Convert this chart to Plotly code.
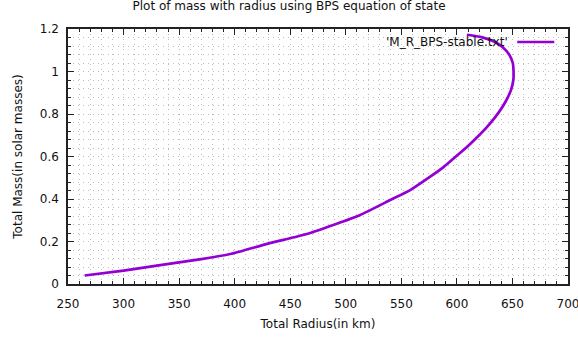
import plotly.graph_objects as go

# Mass-radius relation for the BPS equation of state (stable branch)
radius_km = [265, 300, 333, 370, 396, 430, 465, 490, 513, 540, 558, 576,
             588, 598, 610, 620, 629, 638, 644, 648.5, 650.8, 651, 650.3,
             647, 641, 633, 622, 609]
mass_msun = [0.04, 0.063, 0.089, 0.117, 0.141, 0.19, 0.235, 0.28, 0.325,
             0.395, 0.442, 0.505, 0.55, 0.595, 0.65, 0.70, 0.75, 0.81, 0.86,
             0.91, 0.96, 1.0, 1.04, 1.08, 1.115, 1.142, 1.162, 1.173]

series_name = "'M_R_BPS-stable.txt'"
line_color = "#9400D3"
font_family = "DejaVu Sans"
grid_color = "#bdbdbd"
grid_dash = "1px 4px"

fig = go.Figure()
fig.add_trace(go.Scatter(
    x=radius_km, y=mass_msun, mode="lines", name=series_name,
    line=dict(color=line_color, width=2.7, shape="spline", smoothing=0.5),
    showlegend=False,
))

axis_common = dict(
    showline=True, linecolor="#222222", linewidth=1.5, mirror="allticks",
    ticks="inside", ticklen=6, tickwidth=1, tickcolor="#222222",
    showgrid=True, gridcolor=grid_color, griddash=grid_dash, gridwidth=1,
    zeroline=False, automargin=False, ticklabeloverflow="allow",
    tickfont=dict(family=font_family, size=12, color="#111111"),
)

fig.update_xaxes(
    range=[250, 700], dtick=50, tick0=250, ticklabelstandoff=8,
    minor=dict(dtick=10, ticks="inside", ticklen=3, tickcolor="#222222",
               showgrid=True, gridcolor=grid_color, griddash=grid_dash,
               gridwidth=1),
    title=dict(text="Total Radius(in km)", standoff=9,
               font=dict(family=font_family, size=12, color="#111111")),
    **axis_common,
)
fig.update_yaxes(
    range=[0, 1.2], dtick=0.2, tick0=0, ticklabelstandoff=5,
    minor=dict(dtick=0.04, ticks="inside", ticklen=3, tickcolor="#222222",
               showgrid=True, gridcolor=grid_color, griddash=grid_dash,
               gridwidth=1),
    title=dict(text="Total Mass(in solar masses)", standoff=15,
               font=dict(family=font_family, size=12, color="#111111")),
    **axis_common,
)

# Key: label on the left, line sample on the right
fig.add_annotation(
    x=0.8845, y=0.949, xref="paper", yref="paper", xanchor="right",
    yanchor="middle", text=series_name, showarrow=False,
    font=dict(family=font_family, size=12, color="#111111"),
)
fig.add_shape(
    type="line", xref="paper", yref="paper",
    x0=0.8985, x1=0.9726, y0=0.949, y1=0.949,
    line=dict(color=line_color, width=2.7),
)

fig.update_layout(
    width=578, height=341,
    margin=dict(l=68, r=10, t=29, b=57),
    paper_bgcolor="white", plot_bgcolor="white",
    title=dict(text="Plot of mass with radius using BPS equation of state",
               x=0.5, xanchor="center", y=0.982, yanchor="middle",
               yref="container",
               font=dict(family=font_family, size=12, color="#111111")),
)

fig.write_html("out.html")
